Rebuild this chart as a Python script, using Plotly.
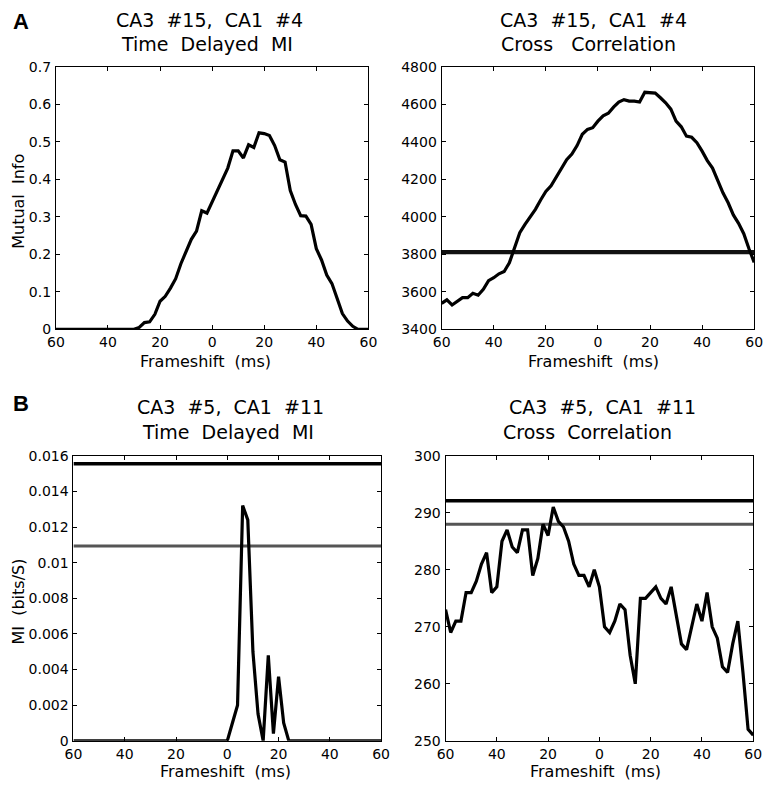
import plotly.graph_objects as go

W, H = 771, 789

# ---------------- data ----------------
frameshift = list(range(-60, 61, 2))  # ms

mi_a = [0]*16 + [0.005, 0.018, 0.02, 0.04, 0.075, 0.088, 0.11, 0.135, 0.175, 0.21,
        0.24, 0.262, 0.316, 0.31, 0.34, 0.372, 0.398, 0.43, 0.476, 0.476,
        0.457, 0.492, 0.485, 0.524, 0.522, 0.517, 0.49, 0.452, 0.446, 0.37,
        0.333, 0.303, 0.302, 0.28, 0.215, 0.185, 0.145, 0.122, 0.082, 0.042,
        0.022, 0.008, 0, 0, 0]

xc_a = [3539, 3557, 3530, 3548, 3569, 3569, 3592, 3582, 3614, 3660,
        3675, 3696, 3708, 3755, 3830, 3915, 3960, 4000, 4040, 4090,
        4135, 4165, 4210, 4255, 4305, 4335, 4380, 4440, 4466, 4475,
        4510, 4538, 4552, 4585, 4612, 4625, 4617, 4617, 4612, 4664,
        4664, 4660, 4635, 4608, 4574, 4510, 4480, 4430, 4424, 4395,
        4350, 4300, 4260, 4190, 4128, 4075, 4010, 3965, 3910, 3830,
        3757]
xc_a_thresh = 3812

mi_b = [0]*30 + [0, 0.001, 0.002, 0.0132, 0.0124, 0.005, 0.0015, 0, 0.0048, 0.0004,
        0.0036, 0.001, 0] + [0]*18
mi_b_thresh_hi = 0.01555
mi_b_thresh_lo = 0.01093

xc_b = [273, 269, 271, 271, 276, 276, 278, 281, 283, 276,
        277, 285, 287, 284, 283, 287, 287, 279, 282, 288,
        286, 291, 288.5, 287.5, 285, 281, 279, 279, 277, 280,
        277, 270, 269, 271, 274, 273, 265, 260, 275, 275,
        276, 277, 275, 274, 277, 272, 267, 266, 270, 274,
        271, 276, 270, 268, 263, 262, 267, 271, 262, 252,
        251]
xc_b_thresh_hi = 292.1
xc_b_thresh_lo = 288.0

x_tickvals = [-60, -40, -20, 0, 20, 40, 60]
x_ticktext = ["60", "40", "20", "0", "20", "40", "60"]

titles = {
    "a1": ["CA3  #15,  CA1  #4", "Time  Delayed  MI"],
    "a2": ["CA3  #15,  CA1  #4", "Cross   Correlation"],
    "b1": ["CA3  #5,  CA1  #11", "Time  Delayed  MI"],
    "b2": ["CA3  #5,  CA1  #11", "Cross  Correlation"],
}

# ---------------- layout helpers ----------------
def px2x(p):
    return p / W

def px2y(p):
    return 1 - p / H

panels = {
    # name: (x0, x1, ytop, ybottom) in pixels
    "a1": (48, 368, 60, 328),
    "a2": (443, 763, 60, 328),
    "b1": (66, 381, 457, 748),
    "b2": (447, 762, 457, 748),
}

FONT = "DejaVu Sans, Verdana, sans-serif"
fig = go.Figure()

axis_ids = {"a1": ("x", "y"), "a2": ("x2", "y2"), "b1": ("x3", "y3"), "b2": ("x4", "y4")}

def add_line(name, y, color="black", width=3.2):
    xa, ya = axis_ids[name]
    fig.add_trace(go.Scatter(x=frameshift, y=y, mode="lines",
                             line=dict(color=color, width=width),
                             xaxis=xa, yaxis=ya, showlegend=False, hoverinfo="skip"))

def add_hline(name, val, color="black", width=3.5):
    xa, ya = axis_ids[name]
    fig.add_trace(go.Scatter(x=[frameshift[0], frameshift[-1]], y=[val, val], mode="lines",
                             line=dict(color=color, width=width),
                             xaxis=xa, yaxis=ya, showlegend=False, hoverinfo="skip"))

add_line("a1", mi_a)
add_hline("a2", xc_a_thresh, color="#111111", width=4.2)
add_line("a2", xc_a)
add_hline("b1", mi_b_thresh_hi, width=3.5)
add_hline("b1", mi_b_thresh_lo, color="#555555", width=3)
add_line("b1", mi_b)
add_hline("b2", xc_b_thresh_hi, width=3.5)
add_hline("b2", xc_b_thresh_lo, color="#555555", width=3)
add_line("b2", xc_b)

yaxes_cfg = {
    "a1": dict(range=[0, 0.7], tickvals=[0, 0.1, 0.2, 0.3, 0.4, 0.5, 0.6, 0.7],
               ticktext=["0", "0.1", "0.2", "0.3", "0.4", "0.5", "0.6", "0.7"]),
    "a2": dict(range=[3400, 4800], tickvals=list(range(3400, 4801, 200))),
    "b1": dict(range=[0, 0.016], tickvals=[0, 0.002, 0.004, 0.006, 0.008, 0.01, 0.012, 0.014, 0.016],
               ticktext=["0", "0.002", "0.004", "0.006", "0.008", "0.01", "0.012", "0.014", "0.016"]),
    "b2": dict(range=[250, 300], tickvals=list(range(250, 301, 10))),
}

common = dict(showline=True, linecolor="black", linewidth=1, mirror="ticks",
              ticks="inside", ticklen=4, tickcolor="black", showgrid=False, zeroline=False,
              tickfont=dict(family=FONT, size=14, color="black"), fixedrange=True)

layout_axes = {}
for i, name in enumerate(["a1", "a2", "b1", "b2"]):
    x0, x1, yt, yb = panels[name]
    suffix = "" if i == 0 else str(i + 1)
    layout_axes["xaxis" + suffix] = dict(domain=[px2x(x0), px2x(x1)], range=[-60, 60],
                                         tickvals=x_tickvals, ticktext=x_ticktext,
                                         anchor="y" + suffix, ticklabelstandoff=0, **common)
    layout_axes["yaxis" + suffix] = dict(domain=[px2y(yb), px2y(yt)], anchor="x" + suffix,
                                         ticklabelstandoff=1, **yaxes_cfg[name], **common)

annotations = []
def ann(text, xp, yp, size, rot=0, bold=False, family=FONT):
    annotations.append(dict(text=("<b>%s</b>" % text) if bold else text,
                            x=px2x(xp), y=px2y(yp), xref="paper", yref="paper",
                            showarrow=False, xanchor="center", yanchor="middle",
                            textangle=rot, font=dict(family=family, size=size, color="black")))

# panel titles
ann(titles["a1"][0], 205, 12, 19)
ann(titles["a1"][1], 203, 37, 19)
ann(titles["a2"][0], 598, 12, 19)
ann(titles["a2"][1], 593, 37, 19)
ann(titles["b1"][0], 227, 407, 19)
ann(titles["b1"][1], 224, 433, 19)
ann(titles["b2"][0], 608, 407, 19)
ann(titles["b2"][1], 592, 433, 19)

# axis titles
ann("Frameshift  (ms)", 201, 361, 16)
ann("Frameshift  (ms)", 598, 361, 16)
ann("Frameshift  (ms)", 222, 779, 16)
ann("Frameshift  (ms)", 601, 779, 16)
ann("Mutual  Info", 9, 197, 16, rot=-90)
ann("MI  (bits/S)", 10, 606, 16, rot=-90)

# panel letters
ann("A", 12, 14, 22, bold=True, family="Liberation Sans, Arial, sans-serif")
ann("B", 12, 404, 22, bold=True, family="Liberation Sans, Arial, sans-serif")

fig.update_layout(width=W, height=H, margin=dict(l=0, r=0, t=0, b=0),
                  paper_bgcolor="white", plot_bgcolor="white",
                  annotations=annotations, **layout_axes)

fig.write_html("out.html", config={"displayModeBar": False},
               post_script="document.body.style.margin='0';document.body.style.overflow='hidden';")
